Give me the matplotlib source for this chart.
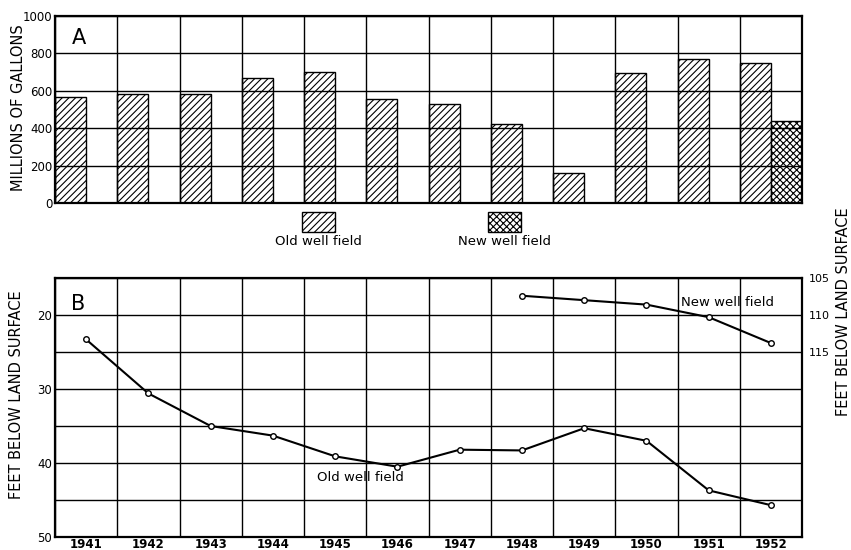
import numpy as np
import matplotlib.pyplot as plt

plt.rcParams["font.family"] = "DejaVu Sans"
plt.rcParams["hatch.linewidth"] = 0.8

years = np.arange(1941, 1953)

# pumpage, millions of gallons
old_pumpage = [565, 583, 583, 668, 702, 555, 530, 424, 160, 694, 772, 750]
new_pumpage_year = [1952]
new_pumpage = [437]

# water levels, feet below land surface
old_level = [23.3, 30.6, 35.0, 36.3, 39.1, 40.5, 38.2, 38.3, 35.3, 37.0, 43.7, 45.7]
new_years = [1948, 1949, 1950, 1951, 1952]
new_level = [107.4, 108.0, 108.6, 110.3, 113.8]

fig = plt.figure(figsize=(8.51, 5.5), dpi=100)
ax1 = fig.add_axes([0.0646, 0.631, 0.878, 0.340])
ax2 = fig.add_axes([0.0646, 0.0236, 0.878, 0.471])

# --- A: pumpage bars
ax1.bar(years - 0.5, old_pumpage, width=0.5, align="edge",
        facecolor="white", edgecolor="black", hatch="/////", linewidth=1.0, zorder=2)
ax1.bar(np.array(new_pumpage_year), new_pumpage, width=0.5, align="edge",
        facecolor="white", edgecolor="black", hatch="xxxxx", linewidth=1.0, zorder=2)
ax1.set_xlim(1940.5, 1952.5)
ax1.set_ylim(0, 1000)
ax1.set_yticks(range(0, 1001, 200))
ax1.set_xticks(np.arange(1940.5, 1953, 1))
ax1.set_xticklabels([])
ax1.tick_params(length=0, labelsize=8.5, pad=2)
ax1.grid(True, color="black", linewidth=1.0, zorder=3)
ax1.set_axisbelow(False)
for s in ax1.spines.values():
    s.set_linewidth(1.6)
ax1.text(0.022, 0.88, "A", transform=ax1.transAxes, fontsize=15, va="center")
fig.text(0.022, 1 - 108 / 550, "MILLIONS OF GALLONS", rotation=90,
         fontsize=10.5, ha="center", va="center")

# legend boxes below panel A
for x0, h, lab in [(0.33, "/////", "Old well field"), (0.579, "xxxxx", "New well field")]:
    r = plt.Rectangle((x0, -0.048), 0.045, -0.11, transform=ax1.transAxes,
                      facecolor="white", edgecolor="black", hatch=h,
                      linewidth=1.0, clip_on=False)
    ax1.add_patch(r)
    ax1.text(x0 + 0.0225, -0.205, lab, transform=ax1.transAxes,
             ha="center", va="center", fontsize=9.5)

# --- B: water levels
ax2.plot(years, old_level, color="black", linewidth=1.5, marker="o",
         markersize=4, markerfacecolor="white", markeredgewidth=1.0, zorder=4)
ax2.set_xlim(1940.5, 1952.5)
ax2.set_ylim(50, 15)
ax2.set_yticks(np.arange(15, 51, 5), minor=False)
ax2.set_yticklabels(["", "20", "", "30", "", "40", "", "50"])
ax2.set_xticks(np.arange(1940.5, 1953, 1), minor=False)
ax2.set_xticklabels([])
ax2.set_xticks(years, minor=True)
ax2.set_xticklabels([str(y) for y in years], minor=True, fontsize=7.5, fontweight="bold")
ax2.tick_params(which="both", length=0, labelsize=8.5, pad=2)
ax2.tick_params(axis="x", which="minor", pad=1)
ax2.grid(True, which="major", color="black", linewidth=1.0, zorder=1)
for s in ax2.spines.values():
    s.set_linewidth(1.6)
ax2.text(0.022, 0.9, "B", transform=ax2.transAxes, fontsize=15, va="center")
ax2.text(1945.4, 41.9, "Old well field", fontsize=9.5, ha="center", va="center")
fig.text(0.019, 1 - 395 / 550, "FEET BELOW LAND SURFACE", rotation=90,
         fontsize=10.5, ha="center", va="center")

ax3 = ax2.twinx()
ax3.plot(new_years, new_level, color="black", linewidth=1.5, marker="o",
         markersize=4, markerfacecolor="white", markeredgewidth=1.0, zorder=4)
ax3.set_ylim(140, 105)
ax3.set_yticks([105, 110, 115])
ax3.tick_params(length=0, labelsize=8, pad=5)
for s in ax3.spines.values():
    s.set_visible(False)
ax3.text(1951.3, 108.3, "New well field", fontsize=9.5, ha="center", va="center")
fig.text(0.991, 1 - 312 / 550, "FEET BELOW LAND SURFACE", rotation=90,
         fontsize=10.5, ha="center", va="center")

fig.savefig("out.png", dpi=100, facecolor="white")
